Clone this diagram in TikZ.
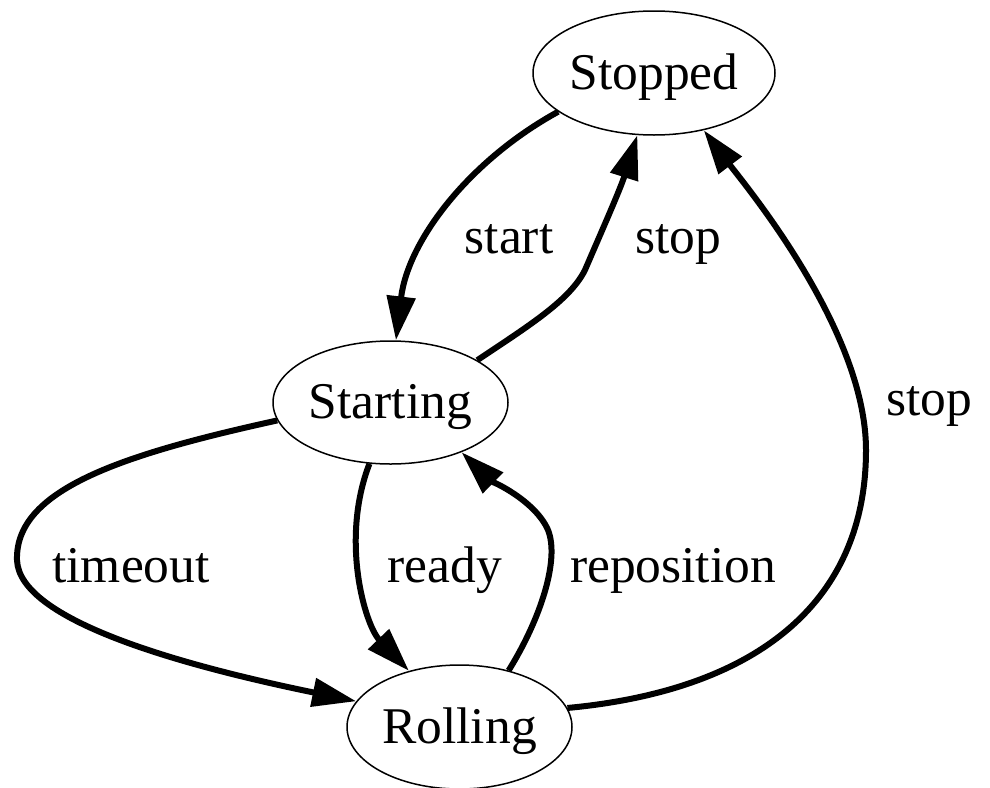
\documentclass[tikz,border=0pt]{standalone}
\usepackage{fontspec}
\setmainfont{Liberation Serif}
\usetikzlibrary{shapes.geometric,arrows.meta}
\begin{document}
\begin{tikzpicture}[x=1pt,y=-1pt,
  state/.style={draw,ellipse,line width=1.5pt,inner sep=0pt,
    text height=38pt,text depth=6pt,font=\fontsize{51.5}{60}\selectfont},
  edge/.style={line width=6pt,-{Triangle[length=44pt,width=28pt]}},
  lbl/.style={anchor=base,inner sep=0pt,font=\fontsize{51.5}{60}\selectfont}]
\useasboundingbox (0,0) rectangle (990,787);
\fill[white] (0,0) rectangle (990,787);
\node[state,minimum width=242pt,minimum height=124pt] (stopped) at (654,73) {Stopped};
\node[state,minimum width=235pt,minimum height=123pt] (starting) at (390.5,402.5) {Starting};
\node[state,minimum width=225pt,minimum height=124pt] (rolling) at (459.5,727) {Rolling};
% start
\draw[edge] (stopped.-158) .. controls (470,160) and (408,240) .. (starting.85.8);
% stop (short)
\draw[edge] (starting.26.9) .. controls (530,325) and (570,300) .. (585,270)
  .. controls (600,235) and (620,190) .. (stopped.-105.6);
% stop (long)
\draw[edge] (rolling.10.5) .. controls (760,690) and (866,600) .. (866,450)
  .. controls (866,330) and (745,185) .. (stopped.-49.3);
% timeout
\draw[edge] (starting.-171.2) .. controls (120,455) and (15,490) .. (17,560)
  .. controls (19,620) and (180,665) .. (rolling.166.3);
% ready
\draw[edge] (starting.-109.8) .. controls (340,540) and (365,625) .. (rolling.132);
% reposition
\draw[edge] (rolling.49.6) .. controls (540,620) and (560,560) .. (548,530)
  .. controls (535,500) and (490,480) .. (starting.-35.5);
\node[lbl] (lstart) at (509,253) {start};
\node[lbl] (lstop1) at (678,253) {stop};
\node[lbl] (lstop2) at (929,415) {stop};
\node[lbl] (ltimeout) at (131,582) {timeout};
\node[lbl] (lready) at (445,582) {ready};
\node[lbl] (lrepos) at (673,582) {reposition};
\end{tikzpicture}
\end{document}
